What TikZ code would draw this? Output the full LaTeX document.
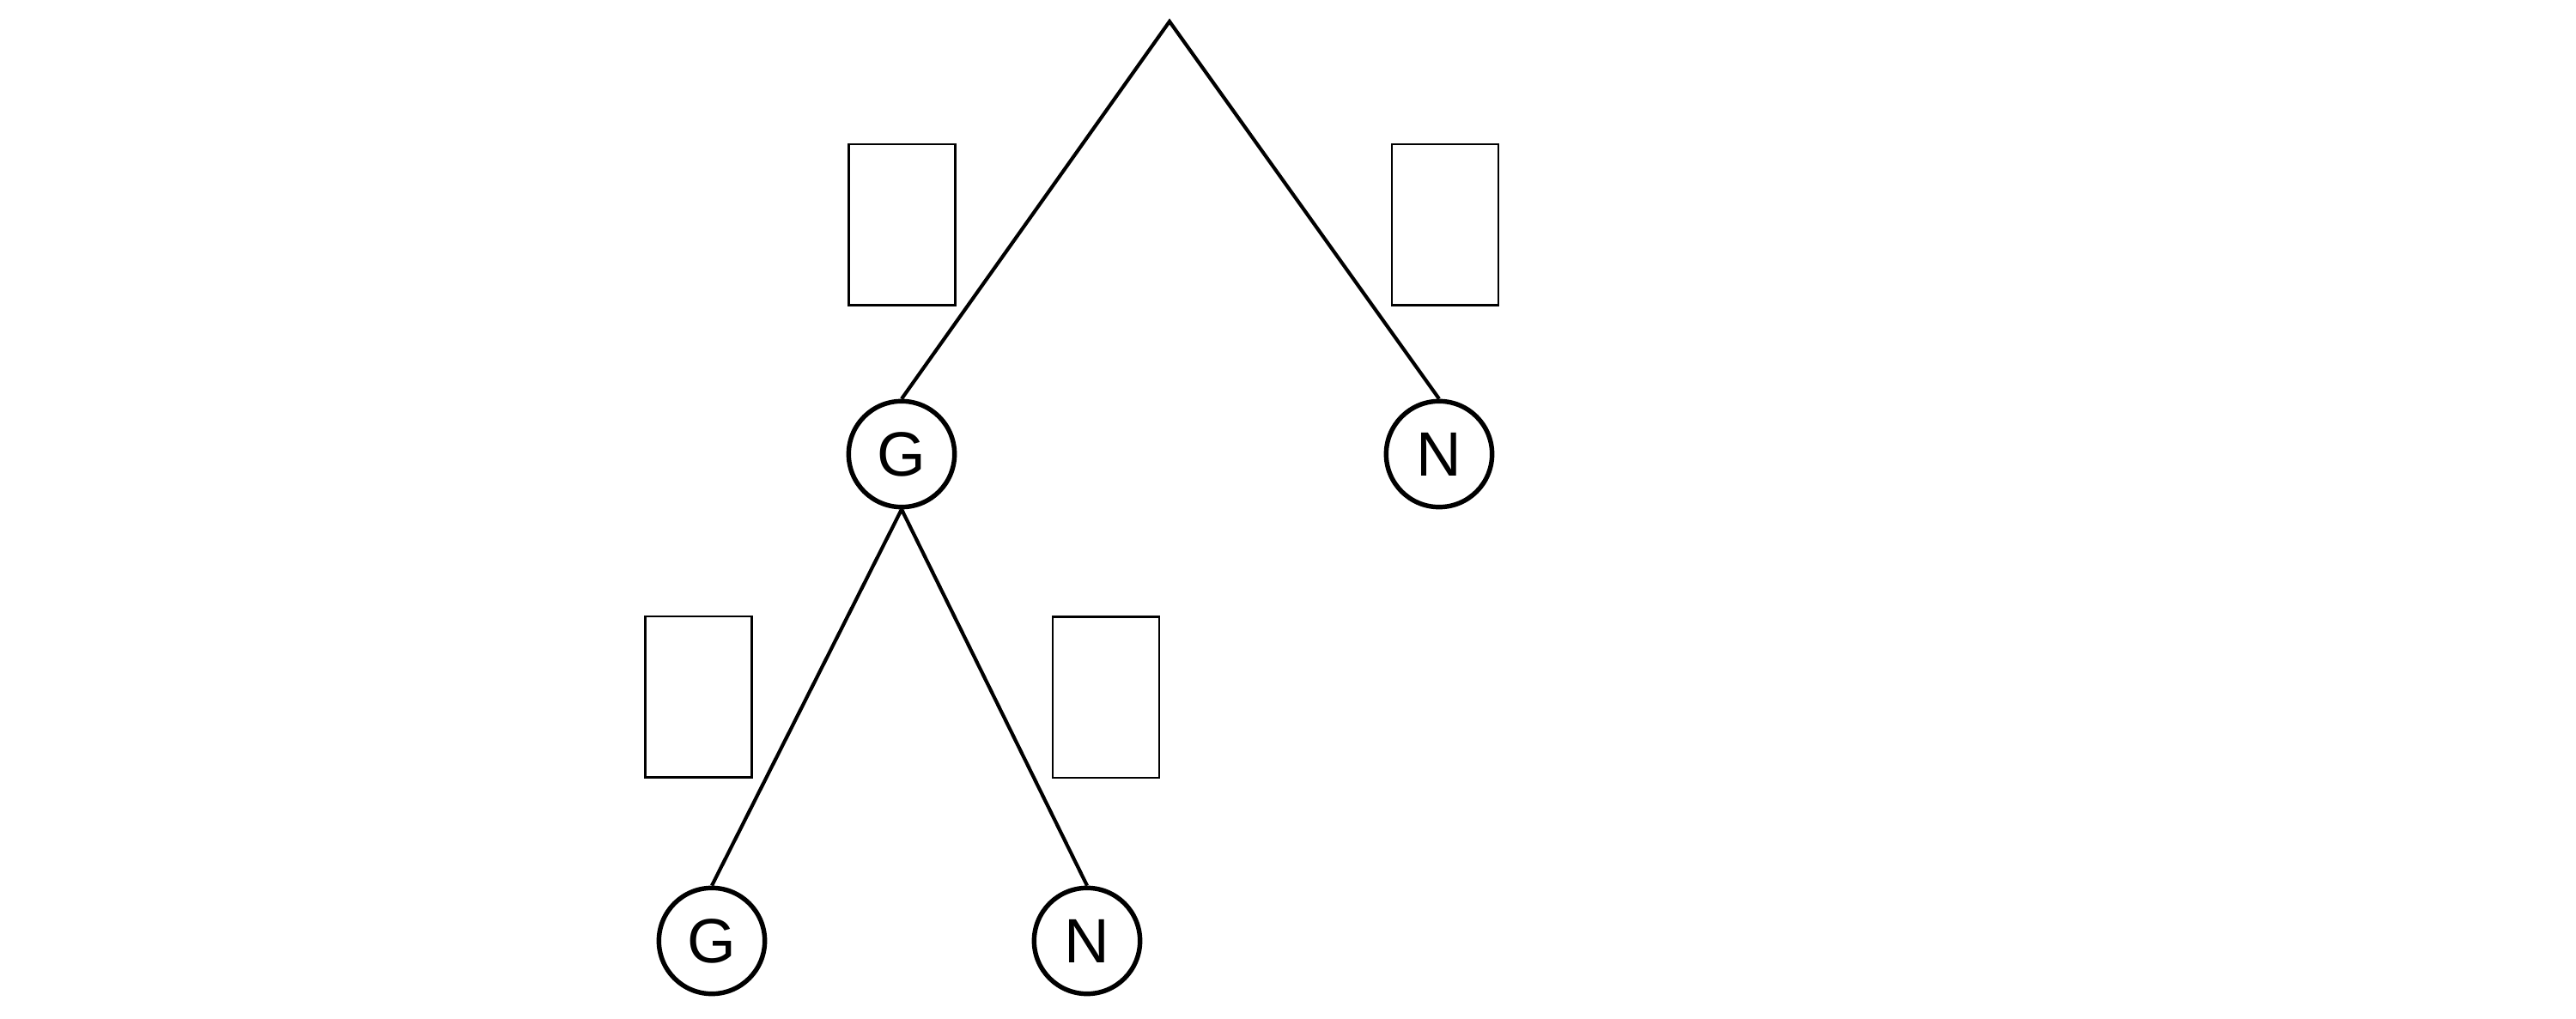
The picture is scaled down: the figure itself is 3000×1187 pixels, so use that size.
\documentclass[tikz,border=0pt]{standalone}
\usepackage{fontspec}
\setmainfont{Liberation Sans}
\begin{document}
\begin{tikzpicture}[x=0.24pt,y=-0.24pt,
  treenode/.style={circle,draw,line width=1.3pt,minimum size=29.6pt,inner sep=0pt,font=\fontsize{17.5}{17.5}\selectfont},
  labelbox/.style={rectangle,draw,line width=0.6pt,minimum width=29.8pt,minimum height=45pt,inner sep=0pt},
  branch/.style={line width=1pt}]
\useasboundingbox (0,0) rectangle (3000,1187);
\coordinate (root) at (1362,25);
\node[treenode] (g1) at (1050,529) {G};
\node[treenode] (n1) at (1676,529) {N};
\node[treenode] (g2) at (829,1096) {G};
\node[treenode] (n2) at (1266,1096) {N};
\node[labelbox] (b1) at (1050.5,262) {};
\node[labelbox] (b2) at (1683,262) {};
\node[labelbox] (b3) at (813.5,812) {};
\node[labelbox] (b4) at (1288,812.5) {};
\draw[branch,line join=miter] (g1.north) -- (root) -- (n1.north);
\draw[branch] (g1.south) -- (g2.north);
\draw[branch] (g1.south) -- (n2.north);
\end{tikzpicture}
\end{document}
